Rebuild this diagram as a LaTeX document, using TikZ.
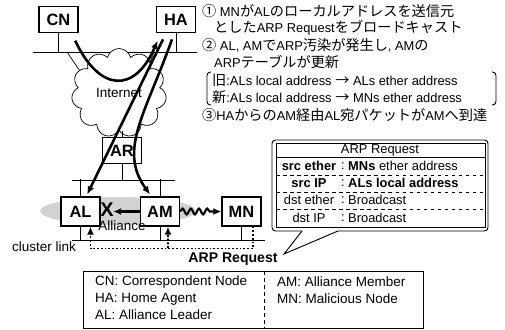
\documentclass[tikz,border=0pt]{standalone}
\usepackage{fontspec}
\setmainfont{Liberation Sans}
\newfontfamily\jpfont[Scale=1.1]{Noto Sans CJK JP}
\newcommand{\jp}[1]{{\jpfont #1}}
\usetikzlibrary{arrows.meta,shapes.symbols,decorations.pathmorphing}

\begin{document}
\begin{tikzpicture}[x=0.03cm, y=-0.03cm, >={Latex[length=7pt,width=6pt]},
  nbox/.style={draw, fill=white, line width=0.9pt, minimum width=1.17cm,
    minimum height=0.76cm, inner sep=0pt, font=\fontsize{14}{16}\selectfont\bfseries},
  lbox/.style={nbox, minimum height=0.87cm},
  lan/.style={line width=0.6pt},
  flow/.style={line width=2.2pt, ->},
  dotflow/.style={line width=1.6pt, dash pattern=on 1.6pt off 1.6pt, ->},
  note/.style={anchor=west, inner sep=0pt, font=\fontsize{11}{13}\selectfont},
  cell/.style={inner sep=0pt, font=\fontsize{11}{13}\selectfont},
  legend/.style={anchor=west, inner sep=0pt, font=\fontsize{11.5}{13}\selectfont}]
  \useasboundingbox (0,0) rectangle (505,329);

  % --- Alliance の領域 ---
  \fill[gray!35] (118,211) ellipse [x radius=2.34cm, y radius=0.42cm];

  % --- 上部ネットワーク ---
  \node[nbox] (cn) at (58.5,19.5) {CN};
  \node[nbox] (ha) at (176,19.5) {HA};
  \draw[lan] (33,52) -- (197,52);
  \draw[lan] (cn.south) -- ++(0,20);
  \draw[lan] (ha.south) -- ++(0,20);
  \node[cloud, cloud puffs=11, draw, fill=white, lan, minimum width=2.85cm,
    minimum height=1.56cm, font=\fontsize{11.5}{13}\selectfont] (inet) at (119,93) {Internet};
  \draw[lan] (67,52) -- (inet.150);
  \draw[lan] (154,52) -- (inet.45);

  % --- AR と cluster ---
  \node[nbox] (ar) at (122,150.5) {AR};
  \draw[lan] (inet.south -| ar.north) -- (ar.north);
  \node[lbox] (al) at (80.5,211.5) {AL};
  \node[lbox] (am) at (160,211.5) {AM};
  \node[lbox] (mn) at (241.5,211.5) {MN};
  \draw[lan] (ar.south) -- ++(0,17);
  \draw[lan] (72,180) -- (175,180);
  \draw[lan] (al.north) -- ++(0,-17);
  \draw[lan] (am.north) -- ++(0,-17);
  \draw[lan] (72,240) -- (265,240);
  \draw[lan] (al.south) -- ++(0,14);
  \draw[lan] (am.south) -- ++(0,14);
  \draw[lan] (mn.south) -- ++(0,14);
  \node[anchor=west, inner sep=0pt, font=\fontsize{11.5}{13}\selectfont] (clink) at (12,247) {cluster link};
  \node[inner sep=0pt, font=\fontsize{11.5}{13}\selectfont] (ally) at (122,226) {Alliance};

  % --- パケットの流れ ---
  \draw[flow] ([xshift=-0.1cm,yshift=-0.24cm]cn.south east)
    .. controls (100,93) and (135,93) .. ([xshift=0.05cm,yshift=-0.24cm]ha.south west);
  \draw[flow] ([xshift=-0.39cm,yshift=-0.2cm]ha.south) -- ([xshift=0.2cm,yshift=0.06cm]al.north);
  \draw[flow] ([xshift=-0.12cm,yshift=-0.2cm]ha.south)
    .. controls (145,115) and (118,150) .. ([xshift=-0.3cm,yshift=0.06cm]am.north);
  \draw[line width=1.8pt, ->] (am.west) -- ++(-27,0);
  \node[inner sep=0pt, font=\fontsize{17}{17}\selectfont\bfseries] (cross) at (107,210) {X};
  \draw[line width=1.8pt, ->, decorate,
    decoration={snake, amplitude=2.5pt, segment length=7pt, post length=7pt}] (am.east) -- (mn.west);

  % --- ARP Request のブロードキャスト ---
  \coordinate (split) at (168,248);
  \draw[dotflow] ([xshift=0.35cm]mn.south) -- ++(0,22) -| ([xshift=0.3cm]al.south);
  \draw[dotflow] (split) -- ([xshift=0.24cm]am.south);
  \node[inner sep=0pt, font=\fontsize{12}{14}\selectfont\bfseries] (req) at (233,259) {ARP Request};

  % --- 説明文 ---
  \node[note] (s1) at (202,11) {\jp{①} MN\jp{が}AL\jp{のローカルアドレスを送信元}};
  \node[note] (s2) at (214,28) {\jp{とした}ARP Request\jp{をブロードキャスト}};
  \node[note] (s3) at (202,45) {\jp{②} AL, AM\jp{で}ARP\jp{汚染が発生し}, AM\jp{の}};
  \node[note] (s4) at (214,62) {ARP\jp{テーブルが更新}};
  \node[note] (s5) at (212,80) {\jp{旧}:ALs local address \jp{→} ALs ether address};
  \node[note] (s6) at (212,97) {\jp{新}:ALs local address \jp{→} MNs ether address};
  \node[note] (s7) at (202,115) {\jp{③}HA\jp{からの}AM\jp{経由}AL\jp{宛パケットが}AM\jp{へ到達}};
  \draw[line width=0.8pt, rounded corners=3pt] (211,72) -- (207,72) -- (207,105) -- (211,105);
  \draw[line width=0.8pt, rounded corners=3pt] (492,72) -- (496,72) -- (496,105) -- (492,105);

  % --- ARP Request の吹き出し ---
  \draw[line width=0.8pt, rounded corners=3pt] (302,231) -- (272,231) -- (272,140)
    -- (488,140) -- (488,231) -- (338,231);
  \draw[line width=0.8pt] (302,231) -- (284,254) -- (338,231);
  \draw[line width=0.6pt] (276,143) rectangle (485,227);
  \draw[line width=0.6pt] (276,157) -- (485,157);
  \foreach \y in {175,192,209}
    \draw[line width=0.6pt, dashed] (276,\y) -- (485,\y);
  \node[cell] (hdr) at (380,150) {ARP Request};
  \node[cell] (k1) at (309,166) {\bfseries src ether};
  \node[cell] (k2) at (309,183) {\bfseries src IP};
  \node[cell] (k3) at (309,200) {dst ether};
  \node[cell] (k4) at (309,218) {dst IP};
  \foreach \y in {166,183,200,218}
    \node[cell] (c\y) at (343,\y) {:};
  \node[cell, anchor=west] (v1) at (348,166) {\textbf{MNs} ether address};
  \node[cell, anchor=west] (v2) at (348,183) {\bfseries ALs local address};
  \node[cell, anchor=west] (v3) at (348,200) {Broadcast};
  \node[cell, anchor=west] (v4) at (348,218) {Broadcast};

  % --- 凡例 ---
  \draw[line width=0.8pt] (83,271) rectangle (423,328);
  \draw[line width=0.6pt, dashed] (264,271) -- (264,328);
  \node[legend] (l1) at (95,282) {CN: Correspondent Node};
  \node[legend] (l2) at (95,299) {HA: Home Agent};
  \node[legend] (l3) at (95,315) {AL: Alliance Leader};
  \node[legend] (l4) at (277,282) {AM: Alliance Member};
  \node[legend] (l5) at (277,299) {MN: Malicious Node};
\end{tikzpicture}
\end{document}
